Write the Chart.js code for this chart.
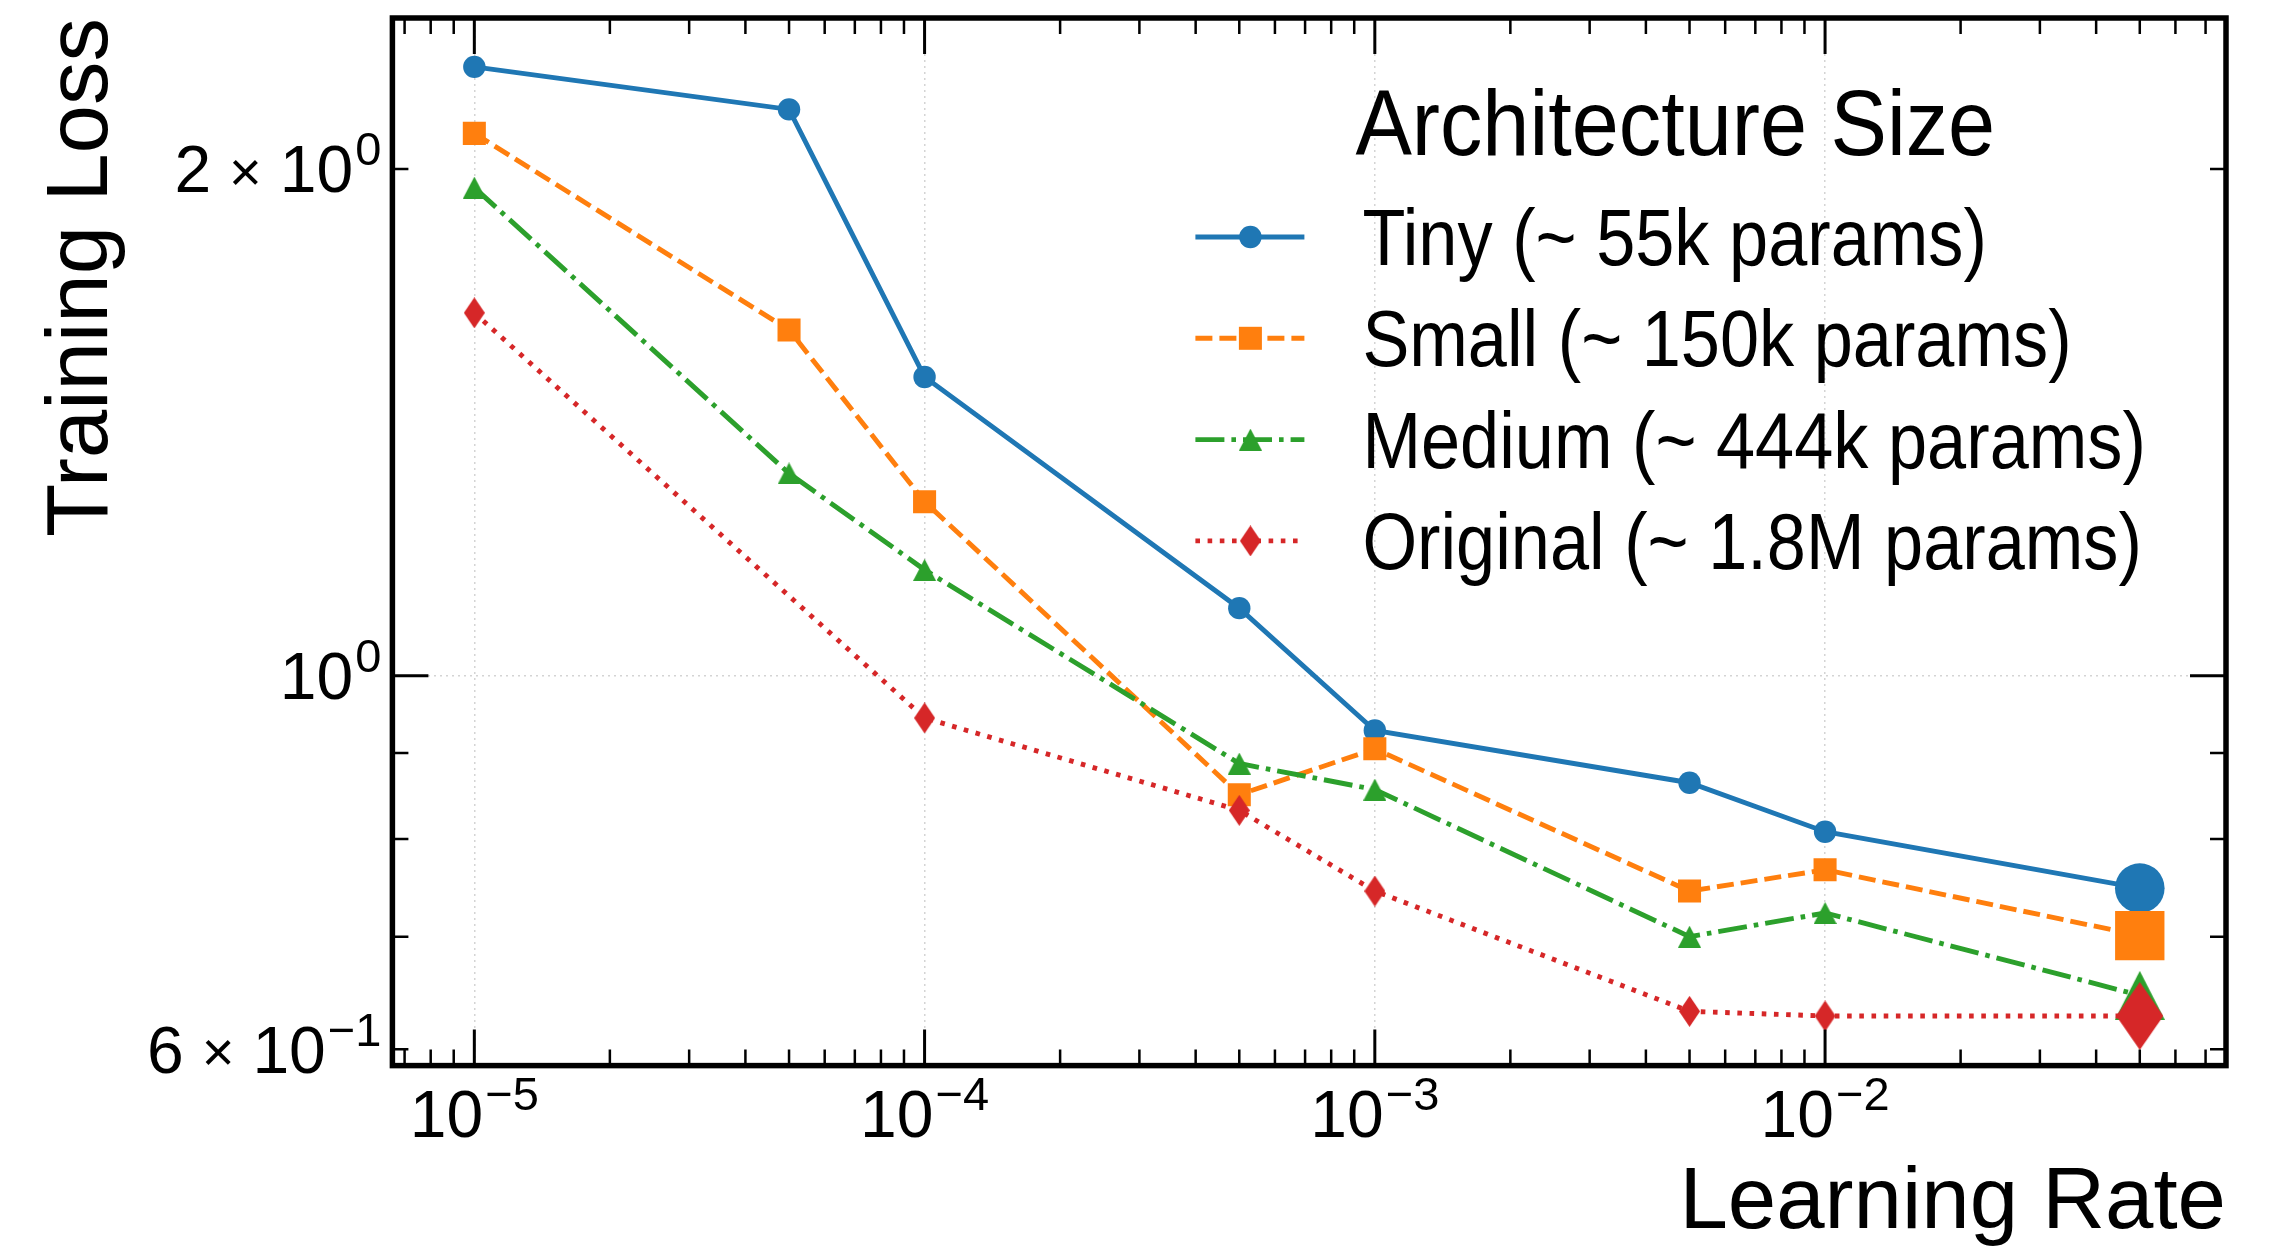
<!DOCTYPE html>
<html>
<head>
<meta charset="utf-8">
<title>Training loss vs learning rate</title>
<script src="https://cdn.jsdelivr.net/npm/chart.js@4.4.1/dist/chart.umd.min.js"></script>
<style>
  html, body { margin: 0; padding: 0; background: #fff; }
</style>
</head>
<body>
<canvas id="loss-chart" width="2280" height="1249"></canvas>
<script>
// learning rates swept and final training loss per architecture
const learningRates = [1e-5, 5e-5, 1e-4, 5e-4, 1e-3, 5e-3, 1e-2, 5e-2];
const tinyLoss = [2.30, 2.17, 1.505, 1.097, 0.928, 0.864, 0.808, 0.748];
const smallLoss = [2.10, 1.605, 1.269, 0.850, 0.905, 0.745, 0.767, 0.701];
const mediumLoss = [1.95, 1.319, 1.156, 0.887, 0.856, 0.700, 0.723, 0.646];
const originalLoss = [1.643, null, 0.944, 0.832, 0.745, 0.632, 0.628, 0.628];

const seriesNames = [
  "Tiny (~ 55k params)",
  "Small (~ 150k params)",
  "Medium (~ 444k params)",
  "Original (~ 1.8M params)",
];
const legendTitle = "Architecture Size";

// tick labels (mantissa, exponent)
const xTickValues = [1e-5, 1e-4, 1e-3, 1e-2];
const xTickExponents = ["\u22125", "\u22124", "\u22123", "\u22122"];
const yTickValues = [2, 1, 0.6];
const yTickMantissas = ["2", "", "6"];
const yTickExponents = ["0", "0", "\u22121"];
const yMajorValues = [1];

const FONT = '"Liberation Sans", Arial, Helvetica, sans-serif';
const colors = ["#1f77b4", "#ff7f0e", "#2ca02c", "#d62728"];
const dashes = [[], [17, 7], [29, 7, 4.6, 7], [4.6, 7.6]];
const LINE_W = 4.9;

function shapeCanvas(kind, w, h, color) {
  const c = document.createElement("canvas");
  c.width = w;
  c.height = h;
  const g = c.getContext("2d");
  g.fillStyle = color;
  g.beginPath();
  if (kind === "triangle") {
    g.moveTo(w / 2, 0);
    g.lineTo(w, h);
    g.lineTo(0, h);
  } else {
    g.moveTo(w / 2, 0);
    g.lineTo(w, h / 2);
    g.lineTo(w / 2, h);
    g.lineTo(0, h / 2);
  }
  g.closePath();
  g.fill();
  return c;
}

const triSmall = shapeCanvas("triangle", 23, 22, colors[2]);
const triBig = shapeCanvas("triangle", 50, 49, colors[2]);
const diaSmall = shapeCanvas("diamond", 21, 31, colors[3]);
const diaBig = shapeCanvas("diamond", 47, 68, colors[3]);

const lastIdx = learningRates.length - 1;
const perPoint = (normal, big) => learningRates.map((_, i) => (i === lastIdx ? big : normal));

function toPoints(values) {
  return learningRates.map((x, i) => ({ x: x, y: values[i] }));
}

const datasets = [
  {
    label: seriesNames[0],
    data: toPoints(tinyLoss),
    borderColor: colors[0],
    backgroundColor: colors[0],
    pointStyle: "circle",
    pointRadius: perPoint(11.2, 24.8),
    order: 4,
  },
  {
    label: seriesNames[1],
    data: toPoints(smallLoss),
    borderColor: colors[1],
    backgroundColor: colors[1],
    borderDash: dashes[1],
    pointStyle: "rect",
    pointRadius: perPoint(16.3, 34.9),
    order: 3,
  },
  {
    label: seriesNames[2],
    data: toPoints(mediumLoss),
    borderColor: colors[2],
    backgroundColor: colors[2],
    borderDash: dashes[2],
    pointStyle: perPoint(triSmall, triBig),
    pointRadius: perPoint(10, 24),
    order: 2,
  },
  {
    label: seriesNames[3],
    data: toPoints(originalLoss),
    borderColor: colors[3],
    backgroundColor: colors[3],
    borderDash: dashes[3],
    pointStyle: perPoint(diaSmall, diaBig),
    pointRadius: perPoint(10, 24),
    spanGaps: true,
    order: 1,
  },
];
datasets.forEach((d) => {
  d.borderWidth = LINE_W;
  d.pointBorderWidth = 0;
  d.tension = 0;
  d.fill = false;
});

function logTicks(min, max) {
  const out = [];
  for (let e = Math.floor(Math.log10(min)); e <= Math.ceil(Math.log10(max)); e++) {
    for (let m = 1; m < 10; m++) {
      const v = m * Math.pow(10, e);
      if (v >= min && v <= max) out.push({ v: v, major: m === 1 });
    }
  }
  return out;
}

// "m × 10^e" with a raised exponent
function drawPower(ctx, x, y, mant, exp, align) {
  const F = 66;
  const SF = 47;
  const parts = [];
  if (mant) {
    parts.push({ t: mant, f: F, dy: 0, pad: 0 });
    parts.push({ t: "\u00d7", f: F * 0.85, dy: -0.02 * F, pad: 18 });
    parts.push({ t: "10", f: F, dy: 0, pad: 18 });
  } else {
    parts.push({ t: "10", f: F, dy: 0, pad: 0 });
  }
  parts.push({ t: exp, f: SF, dy: -0.41 * F, pad: 2 });
  let total = 0;
  parts.forEach((p) => {
    ctx.font = p.f + "px " + FONT;
    p.w = ctx.measureText(p.t).width;
    total += p.pad + p.w;
  });
  let cx = align === "right" ? x - total : x - total / 2;
  const base = y + 0.355 * F;
  ctx.textAlign = "left";
  ctx.textBaseline = "alphabetic";
  parts.forEach((p) => {
    cx += p.pad;
    ctx.font = p.f + "px " + FONT;
    ctx.fillText(p.t, cx, base + p.dy);
    cx += p.w;
  });
}

function fillNarrow(ctx, text, x, y, size, sx) {
  ctx.save();
  ctx.translate(x, y);
  ctx.scale(sx, 1);
  ctx.font = size + "px " + FONT;
  ctx.textAlign = "left";
  ctx.textBaseline = "alphabetic";
  ctx.fillText(text, 0, 0);
  ctx.restore();
}

function drawMarker(ctx, i, x, y) {
  ctx.fillStyle = colors[i];
  if (i === 0) {
    ctx.beginPath();
    ctx.arc(x, y, 11.2, 0, Math.PI * 2);
    ctx.fill();
  } else if (i === 1) {
    ctx.fillRect(x - 11.5, y - 11.5, 23, 23);
  } else {
    const img = i === 2 ? triSmall : diaSmall;
    ctx.drawImage(img, x - img.width / 2, y - img.height / 2);
  }
}

const decorations = {
  id: "decorations",
  afterDraw(chart) {
    const ctx = chart.ctx;
    const a = chart.chartArea;
    const xs = chart.scales.x;
    const ys = chart.scales.y;
    ctx.save();

    // inward ticks on all four sides
    ctx.strokeStyle = "#000";
    logTicks(xs.min, xs.max).forEach((t) => {
      const px = xs.getPixelForValue(t.v);
      const len = t.major ? 36 : 16;
      ctx.lineWidth = t.major ? 3 : 2.5;
      ctx.beginPath();
      ctx.moveTo(px, a.bottom);
      ctx.lineTo(px, a.bottom - len);
      ctx.moveTo(px, a.top);
      ctx.lineTo(px, a.top + len);
      ctx.stroke();
    });
    logTicks(ys.min, ys.max).forEach((t) => {
      const py = ys.getPixelForValue(t.v);
      const len = t.major ? 36 : 16;
      ctx.lineWidth = t.major ? 3 : 2.5;
      ctx.beginPath();
      ctx.moveTo(a.left, py);
      ctx.lineTo(a.left + len, py);
      ctx.moveTo(a.right, py);
      ctx.lineTo(a.right - len, py);
      ctx.stroke();
    });

    // frame
    ctx.lineWidth = 5.5;
    ctx.strokeRect(a.left, a.top, a.right - a.left, a.bottom - a.top);

    // tick labels
    ctx.fillStyle = "#000";
    xTickValues.forEach((v, i) => {
      drawPower(ctx, xs.getPixelForValue(v), a.bottom + 71 - 0.355 * 66, "", xTickExponents[i], "center");
    });
    yTickValues.forEach((v, i) => {
      drawPower(ctx, a.left - 11, ys.getPixelForValue(v), yTickMantissas[i], yTickExponents[i], "right");
    });

    // legend
    const lx0 = a.left + 803;
    const lx1 = a.left + 912;
    const lxm = a.left + 858;
    ctx.fillStyle = "#000";
    fillNarrow(ctx, legendTitle, a.left + 963, a.top + 137, 92, 0.92);
    seriesNames.forEach((name, i) => {
      const ly = a.top + 219 + i * 101.3;
      ctx.strokeStyle = colors[i];
      ctx.lineWidth = LINE_W;
      ctx.setLineDash(dashes[i]);
      ctx.beginPath();
      ctx.moveTo(lx0, ly);
      ctx.lineTo(lx1, ly);
      ctx.stroke();
      ctx.setLineDash([]);
      drawMarker(ctx, i, lxm, ly);
      ctx.fillStyle = "#000";
      fillNarrow(ctx, name, a.left + 970, ly + 28, 79, 0.89);
    });
    ctx.restore();
  },
};

new Chart(document.getElementById("loss-chart").getContext("2d"), {
  type: "line",
  data: { datasets: datasets },
  options: {
    responsive: false,
    animation: false,
    events: [],
    layout: { autoPadding: false, padding: { left: 0, right: 54, top: 18, bottom: 0 } },
    plugins: { legend: { display: false }, tooltip: { enabled: false } },
    scales: {
      x: {
        type: "logarithmic",
        position: "bottom",
        min: 6.577e-6,
        max: 0.07771,
        afterBuildTicks: (scale) => {
          scale.ticks = xTickValues.map((v) => ({ value: v }));
        },
        ticks: { display: false },
        grid: { color: "#d4d4d4", lineWidth: 1.5, drawTicks: false },
        border: { display: false, dash: [2, 4] },
        title: {
          display: true,
          text: "Learning Rate",
          align: "end",
          color: "#000",
          font: { family: FONT, size: 87 },
          padding: { top: 86, bottom: -7 },
        },
      },
      y: {
        type: "logarithmic",
        position: "left",
        min: 0.5868,
        max: 2.459,
        afterBuildTicks: (scale) => {
          scale.ticks = yMajorValues.map((v) => ({ value: v }));
        },
        ticks: { display: false },
        grid: { color: "#d4d4d4", lineWidth: 1.5, drawTicks: false },
        border: { display: false, dash: [2, 4] },
        title: {
          display: true,
          text: "Training Loss",
          align: "end",
          color: "#000",
          font: { family: FONT, size: 87 },
          padding: { top: 31, bottom: 257 },
        },
      },
    },
  },
  plugins: [decorations],
});
</script>
</body>
</html>
